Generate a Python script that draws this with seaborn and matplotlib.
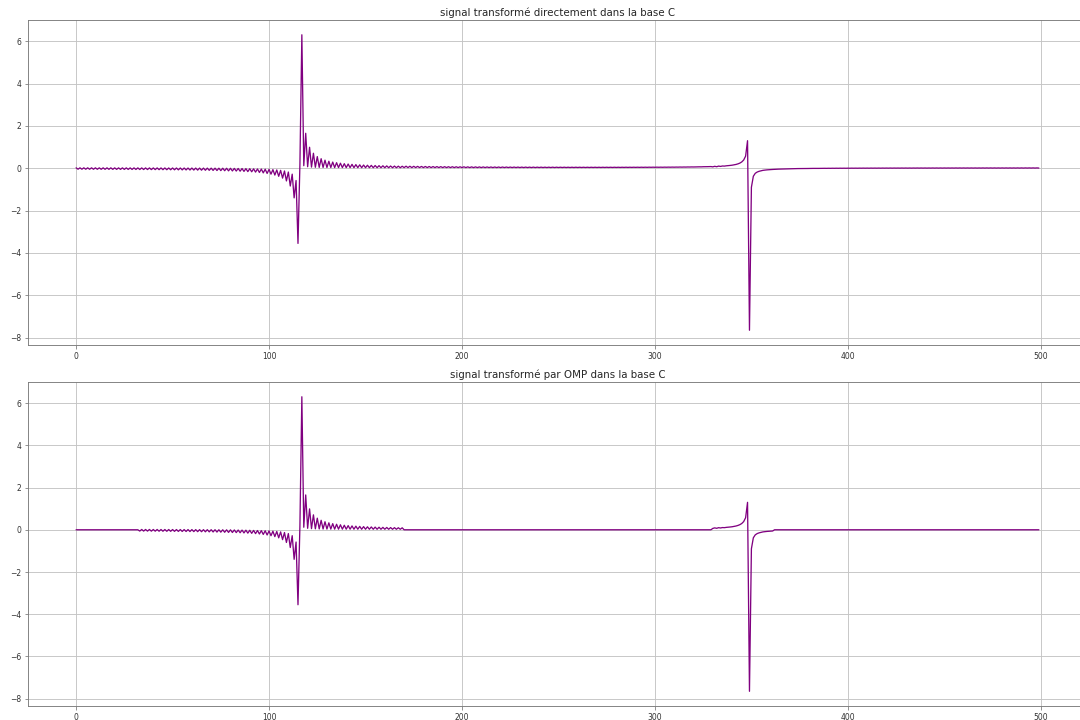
import matplotlib
matplotlib.use("Agg")
import matplotlib.pyplot as plt
import numpy as np
import pandas as pd
import seaborn as sns

# ---- data ----
seg_a = [0.02, -0.047, 0.019, -0.047, 0.019, -0.048, 0.019, -0.049, 0.019, -0.049,
         0.019, -0.05, 0.018, -0.051, 0.018, -0.052, 0.018, -0.052, 0.018, -0.053,
         0.017, -0.054, 0.017, -0.055, 0.017, -0.056, 0.017, -0.057, 0.016, -0.058,
         0.016, -0.059, 0.016]

seg_b = [-0.061, 0.015, -0.062, 0.015, -0.063, 0.015, -0.065, 0.014, -0.066, 0.014,
         -0.068, 0.013, -0.069, 0.013, -0.071, 0.012, -0.073, 0.012, -0.075, 0.011,
         -0.077, 0.011, -0.079, 0.01, -0.081, 0.009, -0.084, 0.009, -0.086, 0.008,
         -0.089, 0.007, -0.092, 0.006, -0.096, 0.005, -0.099, 0.004, -0.103, 0.003,
         -0.108, 0.001, -0.112, 0.0, -0.118, -0.002, -0.124, -0.003, -0.128, -0.008,
         -0.133, -0.012, -0.14, -0.015, -0.149, -0.019, -0.159, -0.023, -0.168, -0.03,
         -0.183, -0.035, -0.2, -0.04, -0.221, -0.047, -0.247, -0.055, -0.28, -0.066,
         -0.323, -0.08, -0.382, -0.1, -0.467, -0.13, -0.6, -0.18, -0.84, -0.28,
         -1.4, -0.58, -3.55, 0.2, 6.3, 0.12, 1.65, 0.07, 0.99, 0.053,
         0.707, 0.045, 0.55, 0.04, 0.45, 0.037, 0.381, 0.034, 0.33, 0.033,
         0.291, 0.031, 0.261, 0.03, 0.236, 0.029, 0.215, 0.028, 0.198, 0.028,
         0.183, 0.027, 0.171, 0.027, 0.16, 0.026, 0.15, 0.026, 0.141, 0.026,
         0.134, 0.025, 0.127, 0.025, 0.121, 0.025, 0.115, 0.025, 0.11, 0.024,
         0.105, 0.024, 0.101, 0.024, 0.097, 0.024, 0.093]

seg_c = [0.03, 0.096, 0.03, 0.093, 0.03, 0.09, 0.03, 0.088, 0.03, 0.085,
         0.03, 0.083, 0.03, 0.081, 0.03, 0.078, 0.03, 0.077, 0.03, 0.075,
         0.03, 0.073, 0.03, 0.071, 0.03, 0.07, 0.03, 0.068, 0.03, 0.067,
         0.03, 0.066, 0.03, 0.064, 0.03, 0.063, 0.03, 0.062, 0.03, 0.061,
         0.03, 0.06, 0.03, 0.059, 0.03, 0.058, 0.03, 0.057, 0.03, 0.057,
         0.03, 0.056, 0.031, 0.055, 0.031, 0.054, 0.031, 0.054, 0.031, 0.053,
         0.031, 0.052, 0.031, 0.052, 0.031, 0.051, 0.031, 0.051, 0.031, 0.05,
         0.032, 0.05, 0.032, 0.049, 0.032, 0.049, 0.032, 0.049, 0.032, 0.048,
         0.033, 0.048, 0.033, 0.048, 0.033, 0.047, 0.033, 0.047, 0.033, 0.047,
         0.034, 0.047, 0.034, 0.046, 0.034, 0.046, 0.034, 0.046, 0.035, 0.046,
         0.035, 0.046, 0.035, 0.046, 0.036, 0.046, 0.036, 0.046, 0.036, 0.046,
         0.037, 0.046, 0.037, 0.046, 0.038, 0.047, 0.038, 0.047, 0.039, 0.047,
         0.04, 0.047, 0.04, 0.048, 0.041, 0.048, 0.042, 0.049, 0.043, 0.049,
         0.044, 0.05, 0.045, 0.05, 0.045, 0.051, 0.047, 0.052, 0.048, 0.053,
         0.049, 0.054, 0.051, 0.056, 0.052, 0.057, 0.054, 0.059, 0.057, 0.061,
         0.059, 0.063, 0.062, 0.066, 0.065, 0.07, 0.069, 0.073, 0.073, 0.078]

seg_d = [0.065, 0.09, 0.07, 0.1, 0.085, 0.105, 0.1, 0.114, 0.121, 0.132,
         0.143, 0.16, 0.178, 0.205, 0.241, 0.297, 0.388, 0.571, 1.3, -7.65,
         -0.9, -0.38, -0.24, -0.18, -0.145, -0.12, -0.1, -0.088, -0.078, -0.07,
         -0.063, -0.058]

seg_e = [-0.052, -0.048, -0.043, -0.04, -0.035, -0.033, -0.029, -0.028, -0.024, -0.024,
         -0.021, -0.02, -0.017, -0.017, -0.014, -0.015, -0.012, -0.013, -0.01, -0.011,
         -0.008, -0.009, -0.006, -0.008, -0.005, -0.007, -0.004, -0.006, -0.002, -0.005,
         -0.001, -0.004, 0.0, -0.003, 0.001, -0.002, 0.001, -0.002, 0.002, -0.001,
         0.003, 0.0, 0.003, 0.0, 0.004, 0.001, 0.005, 0.001, 0.005, 0.001,
         0.006, 0.002, 0.006, 0.002, 0.007, 0.002, 0.007, 0.003, 0.007, 0.003,
         0.008, 0.003, 0.008, 0.004, 0.008, 0.004, 0.009, 0.004, 0.009, 0.004,
         0.009, 0.004, 0.009, 0.005, 0.01, 0.005, 0.01, 0.005, 0.01, 0.005,
         0.01, 0.005, 0.011, 0.005, 0.011, 0.005, 0.011, 0.005, 0.011, 0.006,
         0.011, 0.006, 0.011, 0.006, 0.012, 0.006, 0.012, 0.006, 0.012, 0.006,
         0.012, 0.006, 0.012, 0.006, 0.012, 0.006, 0.012, 0.006, 0.013, 0.006,
         0.013, 0.006, 0.013, 0.006, 0.013, 0.006, 0.013, 0.006, 0.013, 0.006,
         0.013, 0.006, 0.013, 0.006, 0.013, 0.006, 0.014, 0.006, 0.014, 0.006,
         0.014, 0.007, 0.014, 0.007, 0.014, 0.007, 0.014, 0.007]

# OMP keeps only the coefficients of segments b and d; the rest is exactly zero
signal_direct = seg_a + seg_b + seg_c + seg_d + seg_e
signal_omp = [0.0] * len(seg_a) + seg_b + [0.0] * len(seg_c) + seg_d + [0.0] * len(seg_e)
sample_index = list(range(len(signal_direct)))

titles = ["signal transformé directement dans la base C",
          "signal transformé par OMP dans la base C"]

# ---- style ----
sns.set_theme(style="whitegrid", rc={
    "axes.edgecolor": "#7a7a7a",
    "axes.linewidth": 0.9,
    "grid.color": "#c4c4c4",
    "grid.linewidth": 0.9,
    "xtick.bottom": True,
    "ytick.left": True,
    "xtick.color": "#7a7a7a",
    "ytick.color": "#7a7a7a",
    "xtick.labelcolor": "#333333",
    "ytick.labelcolor": "#333333",
    "xtick.major.size": 3.5,
    "ytick.major.size": 3.5,
    "xtick.major.width": 0.8,
    "ytick.major.width": 0.8,
})
plt.rcParams["font.family"] = ["DejaVu Sans"]

fig = plt.figure(figsize=(15, 10), dpi=72)
ax_top = fig.add_axes([0.0259, 0.5208, 0.9806, 0.4514])
ax_bot = fig.add_axes([0.0259, 0.0194, 0.9806, 0.4500])

df = pd.DataFrame({"n": sample_index, "direct": signal_direct, "omp": signal_omp})

for ax, col, title in [(ax_top, "direct", titles[0]), (ax_bot, "omp", titles[1])]:
    sns.lineplot(data=df, x="n", y=col, ax=ax, color="purple", linewidth=1.3)
    ax.set_title(title, fontsize=10.2, color="#262626", pad=4)
    ax.set_xlabel("")
    ax.set_ylabel("")
    ax.tick_params(labelsize=7.6, pad=3)
    ax.set_xticks([0, 100, 200, 300, 400, 500])
    ax.set_yticks([-8, -6, -4, -2, 0, 2, 4, 6])
    ax.margins(x=0.05, y=0.05)

fig.savefig("out.png", dpi=72)
